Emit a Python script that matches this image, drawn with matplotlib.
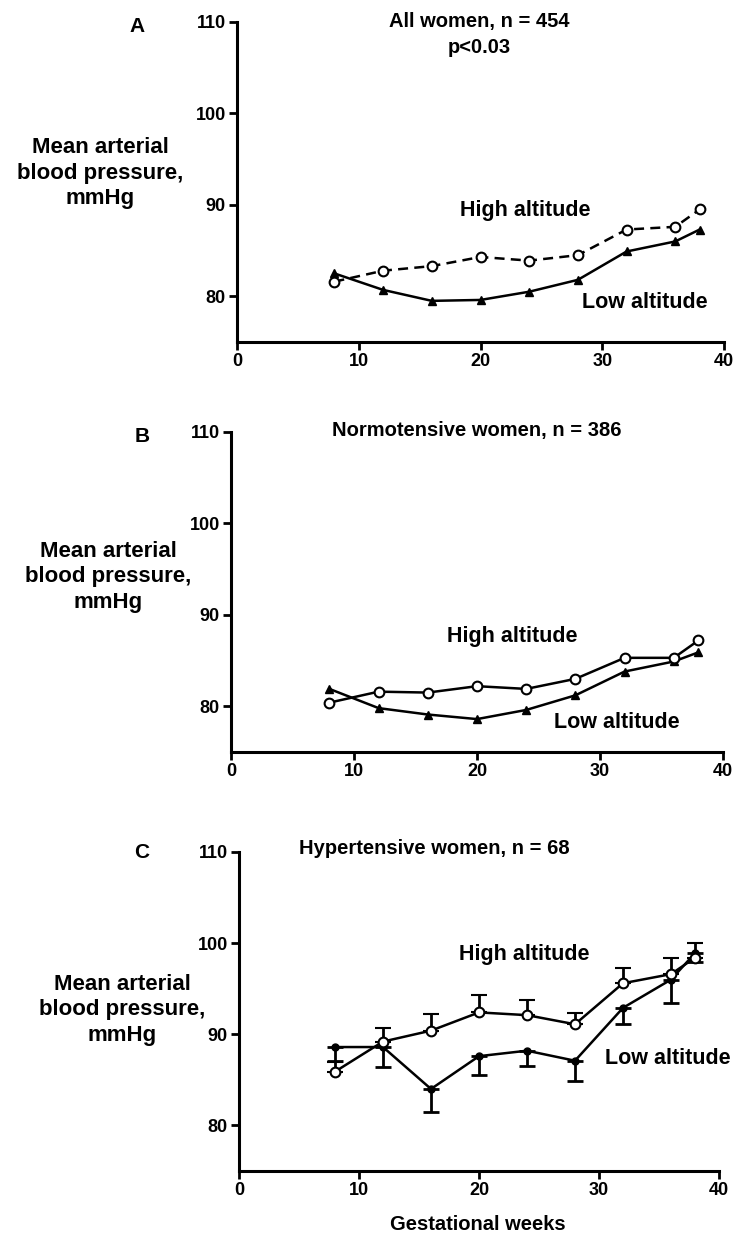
import matplotlib
matplotlib.use("Agg")
import matplotlib.pyplot as plt

W, H = 736, 1237
plt.rcParams["font.family"] = ["Liberation Sans", "DejaVu Sans"]
plt.rcParams["font.weight"] = "bold"

weeks = [8, 12, 16, 20, 24, 28, 32, 36, 38]

# panel A: all women
a_high = [81.6, 82.8, 83.3, 84.3, 83.9, 84.5, 87.3, 87.6, 89.5]
a_low = [82.5, 80.7, 79.5, 79.6, 80.5, 81.8, 84.9, 86.0, 87.3]

# panel B: normotensive women
b_high = [80.4, 81.6, 81.5, 82.2, 81.9, 83.0, 85.3, 85.3, 87.2]
b_low = [81.9, 79.8, 79.1, 78.6, 79.6, 81.2, 83.8, 84.9, 85.9]

# panel C: hypertensive women (with SEM, high shown upward, low downward)
c_high = [85.9, 89.2, 90.4, 92.4, 92.1, 91.1, 95.6, 96.6, 98.4]
c_high_err = [1.1, 1.5, 1.8, 1.9, 1.7, 1.2, 1.7, 1.8, 1.6]
c_low = [88.6, 88.6, 84.0, 87.6, 88.2, 87.1, 92.9, 96.0, 98.9]
c_low_err = [1.5, 2.2, 2.5, 2.1, 1.7, 2.2, 1.8, 2.6, 1.0]

panels = [
    # letter, title lines, axes box (px: left, right, top, bottom), label pos
    dict(letter="A", title="All women, n = 454", title_xy=(19.9, 110.0),
         sub="p<0.03", sub_xy=(19.9, 107.2),
         box=(237, 724, 22, 342), letter_xy=(137, 27), ylab_xy=(100, 173),
         high_xy=(23.7, 89.4), low_xy=(33.5, 79.3)),
    dict(letter="B", title="Normotensive women, n = 386", title_xy=(20.0, 110.2),
         sub=None, sub_xy=None,
         box=(231, 723, 432, 752), letter_xy=(142, 437), ylab_xy=(108, 577),
         high_xy=(22.9, 87.6), low_xy=(31.4, 78.2)),
    dict(letter="C", title="Hypertensive women, n = 68", title_xy=(16.3, 110.4),
         sub=None, sub_xy=None,
         box=(239, 719, 852, 1171), letter_xy=(142, 853), ylab_xy=(122, 1010),
         high_xy=(23.8, 98.7), low_xy=(35.7, 87.3)),
]

fig = plt.figure(figsize=(W / 100, H / 100), dpi=100)

axes = []
for p in panels:
    l, r, t, b = p["box"]
    ax = fig.add_axes([l / W, 1 - b / H, (r - l) / W, (b - t) / H])
    ax.set_xlim(0, 40)
    ax.set_ylim(75, 110)
    ax.set_xticks([0, 10, 20, 30, 40])
    ax.set_yticks([80, 90, 100, 110])
    for s in ["top", "right"]:
        ax.spines[s].set_visible(False)
    for s in ["left", "bottom"]:
        ax.spines[s].set_linewidth(2.2)
    ax.tick_params(width=2, length=6, labelsize=13, pad=2)
    for lab in ax.get_xticklabels() + ax.get_yticklabels():
        lab.set_fontweight("bold")
    ax.patch.set_alpha(0)
    ax.text(*p["title_xy"], p["title"], ha="center", va="center", fontsize=14.5,
            clip_on=False)
    if p["sub"]:
        ax.text(*p["sub_xy"], p["sub"], ha="center", va="center", fontsize=14.5,
                clip_on=False)
    ax.text(*p["high_xy"], "High altitude", ha="center", va="center", fontsize=15.5)
    ax.text(*p["low_xy"], "Low altitude", ha="center", va="center", fontsize=15.5)
    fig.text(p["letter_xy"][0] / W, 1 - p["letter_xy"][1] / H, p["letter"],
             ha="center", va="center", fontsize=15)
    fig.text(p["ylab_xy"][0] / W, 1 - p["ylab_xy"][1] / H,
             "Mean arterial\nblood pressure,\nmmHg", ha="center", va="center",
             fontsize=16, linespacing=1.3)
    axes.append(ax)

lw = 1.8
ax = axes[0]
ax.plot(weeks, a_low, "-", color="black", lw=lw, marker="^", ms=6,
        mfc="black", mec="black", zorder=3)
ax.plot(weeks, a_high, color="black", lw=lw, ls=(0, (4, 2.5)), marker="o", ms=7,
        mfc="white", mec="black", mew=1.5, zorder=4)

ax = axes[1]
ax.plot(weeks, b_low, "-", color="black", lw=lw, marker="^", ms=6,
        mfc="black", mec="black", zorder=3)
ax.plot(weeks, b_high, "-", color="black", lw=lw, marker="o", ms=7,
        mfc="white", mec="black", mew=1.5, zorder=4)

ax = axes[2]
zeros = [0] * len(weeks)
ax.errorbar(weeks, c_low, yerr=[c_low_err, zeros], color="black", lw=lw,
            marker="o", ms=5, mfc="black", mec="black", capsize=6,
            capthick=2, elinewidth=2, zorder=3)
ax.errorbar(weeks, c_high, yerr=[zeros, c_high_err], color="black", lw=lw,
            marker="o", ms=7, mfc="white", mec="black", mew=1.5, capsize=6,
            capthick=2, elinewidth=2, zorder=4)

fig.text(478 / W, 1 - 1225 / H, "Gestational weeks", ha="center", va="center",
         fontsize=14.5)

fig.savefig("out.png", dpi=100)
